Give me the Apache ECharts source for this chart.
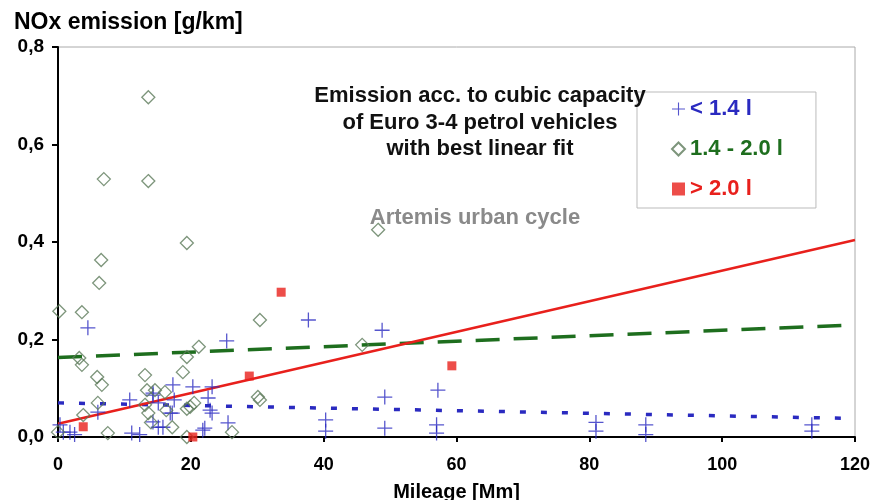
<!DOCTYPE html>
<html>
<head>
<meta charset="utf-8">
<script src="https://cdn.jsdelivr.net/npm/echarts@6/dist/echarts.min.js"></script>
<style>
  html, body { margin: 0; padding: 0; background: #fff; }
  #main { width: 873px; height: 500px; }
</style>
</head>
<body>
<div id="main"></div>
<script>
// small engines (< 1.4 l): [mileage Mm, NOx g/km]
var small = [
  [4.5, 0.224], [25.4, 0.197], [37.7, 0.240], [48.8, 0.219], [57.2, 0.096],
  [49.2, 0.082], [40.3, 0.035], [40.3, 0.012], [49.2, 0.018], [57.0, 0.025],
  [57.0, 0.008], [81.0, 0.030], [81.0, 0.012], [88.5, 0.025], [88.5, 0.005],
  [113.5, 0.025], [113.5, 0.012], [0.3, 0.025], [0.8, 0.010], [1.8, 0.010],
  [2.5, 0.005], [6.0, 0.051], [11.1, 0.008], [12.3, 0.005], [14.3, 0.086],
  [15.1, 0.020], [15.1, 0.070], [10.8, 0.076], [14.3, 0.090], [17.3, 0.107],
  [20.3, 0.103], [23.2, 0.103], [22.6, 0.080], [17.2, 0.049], [23.2, 0.049],
  [22.1, 0.018], [25.6, 0.029], [17.5, 0.076], [16.9, 0.049], [14.3, 0.031],
  [21.8, 0.014], [22.9, 0.055], [15.8, 0.020]
];
// medium engines (1.4 - 2.0 l)
var medium = [
  [13.6, 0.697], [6.9, 0.529], [13.6, 0.525], [19.4, 0.398], [6.5, 0.363],
  [6.2, 0.316], [48.2, 0.425], [0.2, 0.258], [3.6, 0.256], [30.4, 0.240],
  [21.2, 0.185], [19.4, 0.164], [45.8, 0.189], [3.2, 0.162], [3.6, 0.148],
  [5.9, 0.123], [6.6, 0.107], [13.1, 0.127], [18.8, 0.133], [6.0, 0.070],
  [13.4, 0.096], [14.6, 0.096], [13.1, 0.066], [13.6, 0.049], [16.1, 0.092],
  [19.9, 0.062], [20.5, 0.070], [19.4, 0.058], [30.1, 0.082], [30.4, 0.076],
  [3.8, 0.045], [7.5, 0.008], [0.0, 0.010], [17.2, 0.020], [26.2, 0.010],
  [19.4, 0.000], [14.0, 0.030], [16.3, 0.055]
];
// large engines (> 2.0 l)
var large = [
  [3.8, 0.021], [20.3, 0.000], [28.8, 0.125], [33.6, 0.297], [59.3, 0.146]
];
// best linear fits (values at 0 and 120 Mm)
var fitSmall = [[0, 0.070], [120, 0.038]];
var fitMedium = [[0, 0.163], [120, 0.230]];
var fitLarge = [[0, 0.027], [120, 0.404]];

var seriesNames = ['< 1.4 l', '1.4 - 2.0 l', '> 2.0 l'];
var colors = ['#2a2ac0', '#1e6e1e', '#e8201c'];

var crossPath = 'path://M0,6.4H14V7.6H0Z M6.4,0H7.6V14H6.4Z';
var font = 'Liberation Sans, Arial, sans-serif';

var chart = echarts.init(document.getElementById('main'));

var option = {
    animation: false,
    textStyle: { fontFamily: font },
    title: [
        {
            text: 'NOx emission [g/km]',
            left: 9, top: 6,
            textStyle: { fontSize: 23, fontWeight: 'bold', color: '#000', fontFamily: font }
        },
        {
            text: 'Emission acc. to cubic capacity\nof Euro 3-4 petrol vehicles\nwith best linear fit',
            left: 475, top: 78, textAlign: 'center',
            textStyle: { fontSize: 22, fontWeight: 'bold', color: '#111', lineHeight: 26.5, fontFamily: font }
        },
        {
            text: 'Artemis urban cycle',
            left: 470, top: 202, textAlign: 'center',
            textStyle: { fontSize: 22, fontWeight: 'bold', color: '#8a8a8a', fontFamily: font }
        }
    ],
    legend: {
        orient: 'vertical',
        left: 637, top: 92,
        padding: [6, 33, 8, 34],
        itemGap: 18,
        itemWidth: 13, itemHeight: 13,
        borderColor: '#bbb', borderWidth: 1,
        backgroundColor: '#fff',
        data: seriesNames.map(function (n, i) {
            return { name: n, textStyle: { color: colors[i] } };
        }),
        textStyle: { fontSize: 22, fontWeight: 'bold', fontFamily: font }
    },
    grid: {
        left: 58, right: 18, top: 47, bottom: 63,
        outerBoundsMode: 'none',
        show: true, borderColor: '#aaa', borderWidth: 1
    },
    xAxis: {
        type: 'value', min: 0, max: 120, interval: 20,
        name: 'Mileage [Mm]', nameLocation: 'middle', nameGap: 45,
        nameTextStyle: { fontSize: 20, fontWeight: 'bold', color: '#000', fontFamily: font },
        axisLine: { onZero: false, lineStyle: { color: '#000', width: 2 } },
        axisTick: { show: true, length: 5, lineStyle: { color: '#000', width: 2 } },
        axisLabel: { fontSize: 18, fontWeight: 'bold', color: '#000', margin: 19, fontFamily: font },
        splitLine: { show: false }
    },
    yAxis: {
        type: 'value', min: 0, max: 0.8, interval: 0.2,
        axisLine: { show: true, lineStyle: { color: '#000', width: 2 } },
        axisTick: { show: true, length: 6, lineStyle: { color: '#000', width: 2 } },
        axisLabel: {
            fontSize: 19, fontWeight: 'bold', color: '#000', margin: 14, fontFamily: font,
            formatter: function (v) { return v.toFixed(1).replace('.', ','); }
        },
        splitLine: { show: false }
    },
    series: [
        {
            name: seriesNames[0], type: 'scatter', data: small,
            symbol: crossPath, symbolSize: 15,
            itemStyle: { color: colors[0] }, z: 3
        },
        {
            name: seriesNames[1], type: 'scatter', data: medium,
            symbol: 'diamond', symbolSize: 13,
            itemStyle: { color: 'rgba(255,255,255,0)', borderColor: '#5d7a5a', borderWidth: 1.3 },
            z: 3
        },
        {
            name: seriesNames[2], type: 'scatter', data: large,
            symbol: 'rect', symbolSize: 9,
            itemStyle: { color: colors[2] }, z: 4
        },
        {
            type: 'line', data: fitSmall, symbol: 'none', silent: true,
            lineStyle: { color: colors[0], width: 3.5, type: [6, 15] }, z: 2
        },
        {
            type: 'line', data: fitMedium, symbol: 'none', silent: true,
            lineStyle: { color: colors[1], width: 3.5, type: [24, 14] }, z: 2
        },
        {
            type: 'line', data: fitLarge, symbol: 'none', silent: true,
            lineStyle: { color: colors[2], width: 2.5 }, z: 2
        }
    ]
};

chart.setOption(option);
</script>
</body>
</html>
